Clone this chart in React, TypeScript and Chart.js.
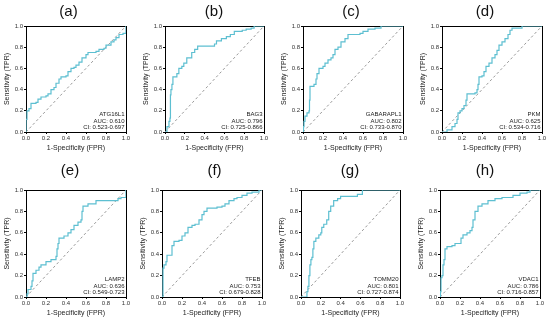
import React, { useEffect, useRef } from 'react';
import { Chart, registerables } from 'chart.js';

Chart.register(...registerables);

// ---------- data ----------
const panelLabels = ['(a)', '(b)', '(c)', '(d)', '(e)', '(f)', '(g)', '(h)'];
const geneNames = ['ATG16L1', 'BAG3', 'GABARAPL1', 'PKM', 'LAMP2', 'TFEB', 'TOMM20', 'VDAC1'];
const aucValues = ['0.610', '0.796', '0.802', '0.625', '0.636', '0.753', '0.801', '0.786'];
const ciValues = ['0.523-0.697', '0.725-0.866', '0.733-0.870', '0.534-0.716', '0.549-0.723', '0.679-0.828', '0.727-0.874', '0.716-0.857'];
const axisTicks = [0, 0.2, 0.4, 0.6, 0.8, 1.0];
const diagFpr = [0, 1];
const diagTpr = [0, 1];

const fprATG16L1 = [0, 0, 0.01, 0.03, 0.05, 0.1, 0.12, 0.15, 0.2, 0.22, 0.25, 0.28, 0.3, 0.33, 0.35, 0.4, 0.42, 0.45, 0.48, 0.5, 0.53, 0.56, 0.6, 0.62, 0.7, 0.73, 0.78, 0.8, 0.85, 0.88, 0.9, 0.93, 0.97, 1, 1];
const tprATG16L1 = [0, 0.12, 0.2, 0.22, 0.27, 0.28, 0.31, 0.33, 0.34, 0.36, 0.4, 0.42, 0.46, 0.5, 0.52, 0.53, 0.57, 0.6, 0.61, 0.63, 0.66, 0.7, 0.73, 0.75, 0.76, 0.78, 0.79, 0.82, 0.85, 0.87, 0.89, 0.92, 0.93, 0.95, 1];

const fprBAG3 = [0, 0.02, 0.04, 0.05, 0.055, 0.06, 0.07, 0.08, 0.1, 0.12, 0.14, 0.17, 0.19, 0.22, 0.27, 0.3, 0.33, 0.5, 0.52, 0.57, 0.62, 0.66, 0.7, 0.78, 0.82, 0.87, 0.9, 1];
const tprBAG3 = [0, 0.05, 0.1, 0.13, 0.35, 0.4, 0.45, 0.52, 0.52, 0.55, 0.6, 0.62, 0.65, 0.7, 0.75, 0.78, 0.81, 0.83, 0.86, 0.88, 0.9, 0.92, 0.95, 0.96, 0.97, 0.98, 1, 1];

const fprGABARAPL1 = [0, 0.005, 0.01, 0.02, 0.04, 0.06, 0.065, 0.07, 0.1, 0.11, 0.13, 0.14, 0.16, 0.2, 0.22, 0.25, 0.28, 0.3, 0.32, 0.35, 0.38, 0.42, 0.45, 0.55, 0.57, 0.6, 0.65, 0.72, 0.78, 1];
const tprGABARAPL1 = [0, 0.05, 0.1, 0.15, 0.18, 0.2, 0.3, 0.43, 0.43, 0.45, 0.5, 0.55, 0.6, 0.62, 0.65, 0.68, 0.7, 0.73, 0.78, 0.8, 0.85, 0.88, 0.92, 0.92, 0.93, 0.95, 0.97, 0.98, 1, 1];

const fprPKM = [0, 0.05, 0.1, 0.13, 0.15, 0.16, 0.18, 0.2, 0.22, 0.24, 0.25, 0.33, 0.35, 0.36, 0.37, 0.4, 0.42, 0.44, 0.47, 0.5, 0.53, 0.55, 0.57, 0.6, 0.63, 0.66, 0.68, 0.7, 0.8, 1];
const tprPKM = [0, 0.02, 0.05, 0.08, 0.12, 0.18, 0.2, 0.22, 0.25, 0.3, 0.36, 0.37, 0.4, 0.45, 0.52, 0.53, 0.57, 0.62, 0.65, 0.7, 0.73, 0.77, 0.82, 0.85, 0.88, 0.92, 0.96, 0.98, 1, 1];

const fprLAMP2 = [0, 0.01, 0.02, 0.05, 0.06, 0.07, 0.1, 0.13, 0.15, 0.18, 0.2, 0.25, 0.3, 0.31, 0.32, 0.33, 0.38, 0.42, 0.45, 0.48, 0.52, 0.55, 0.56, 0.57, 0.62, 0.7, 0.9, 0.92, 0.95, 1, 1];
const tprLAMP2 = [0, 0.03, 0.07, 0.1, 0.15, 0.22, 0.25, 0.28, 0.3, 0.3, 0.33, 0.35, 0.38, 0.45, 0.5, 0.55, 0.57, 0.6, 0.63, 0.67, 0.7, 0.72, 0.8, 0.85, 0.87, 0.9, 0.9, 0.92, 0.93, 0.93, 1];

const fprTFEB = [0, 0.01, 0.02, 0.04, 0.05, 0.08, 0.1, 0.12, 0.17, 0.2, 0.23, 0.26, 0.3, 0.33, 0.37, 0.4, 0.42, 0.45, 0.55, 0.6, 0.63, 0.67, 0.72, 0.75, 0.8, 0.85, 0.9, 0.95, 0.97, 1];
const tprTFEB = [0, 0.27, 0.3, 0.33, 0.39, 0.39, 0.48, 0.52, 0.53, 0.57, 0.6, 0.65, 0.67, 0.68, 0.72, 0.77, 0.8, 0.83, 0.84, 0.85, 0.87, 0.9, 0.92, 0.93, 0.95, 0.97, 0.98, 0.98, 1, 1];

const fprTOMM20 = [0, 0.05, 0.06, 0.07, 0.08, 0.09, 0.1, 0.11, 0.12, 0.13, 0.15, 0.18, 0.2, 0.21, 0.23, 0.26, 0.28, 0.3, 0.33, 0.37, 0.4, 0.53, 0.57, 0.62, 1];
const tprTOMM20 = [0, 0, 0.05, 0.1, 0.2, 0.3, 0.35, 0.37, 0.45, 0.52, 0.55, 0.58, 0.6, 0.65, 0.68, 0.72, 0.8, 0.85, 0.9, 0.92, 0.94, 0.94, 0.96, 1, 1];

const fprVDAC1 = [0, 0.005, 0.01, 0.02, 0.03, 0.04, 0.05, 0.07, 0.12, 0.15, 0.2, 0.21, 0.23, 0.27, 0.3, 0.32, 0.33, 0.35, 0.38, 0.42, 0.48, 0.55, 0.62, 0.7, 0.73, 0.8, 0.87, 0.9, 1];
const tprVDAC1 = [0, 0.05, 0.18, 0.2, 0.3, 0.35, 0.45, 0.47, 0.48, 0.5, 0.5, 0.55, 0.58, 0.6, 0.62, 0.65, 0.72, 0.8, 0.85, 0.87, 0.9, 0.92, 0.93, 0.93, 0.95, 0.97, 0.98, 1, 1];

const fprSeries = [fprATG16L1, fprBAG3, fprGABARAPL1, fprPKM, fprLAMP2, fprTFEB, fprTOMM20, fprVDAC1];
const tprSeries = [tprATG16L1, tprBAG3, tprGABARAPL1, tprPKM, tprLAMP2, tprTFEB, tprTOMM20, tprVDAC1];

// ---------- layout (positions / sizes) ----------
const panelBoxes = [
  { x: 0, w: 139, r: 11, row: 0 },
  { x: 139, w: 152, r: 25, row: 0 },
  { x: 277, w: 150, r: 22, row: 0 },
  { x: 416, w: 140, r: 12, row: 0 },
  { x: 0, w: 142, r: 14, row: 1 },
  { x: 136, w: 159, r: 31, row: 1 },
  { x: 275, w: 152, r: 25, row: 1 },
  { x: 414, w: 144, r: 16, row: 1 },
];
const rowBoxes = [
  { y: 0, h: 160, titleTop: 3, titleBottom: 5, padBottom: 6 },
  { y: 160, h: 161, titleTop: 2, titleBottom: 10, padBottom: 2 },
];

const FONT = '"Liberation Sans", Arial, Helvetica, sans-serif';
const CURVE = '#5dbfd1';
const DIAG = '#8c8c8c';
const INK = '#222222';

Chart.defaults.font.family = FONT;

const rocText = {
  id: 'rocText',
  afterDatasetsDraw(chart: any, _args: any, opts: any) {
    const { ctx, chartArea } = chart;
    const lines: string[] = opts.lines || [];
    ctx.save();
    ctx.font = `6px ${FONT}`;
    ctx.fillStyle = INK;
    ctx.textAlign = 'right';
    ctx.textBaseline = 'middle';
    lines.forEach((t, i) => {
      ctx.fillText(t, chartArea.right - 1.5, chartArea.bottom - 4.5 - (lines.length - 1 - i) * 6.5);
    });
    ctx.restore();
  },
};

function RocPanel({ idx }: { idx: number }) {
  const ref = useRef<HTMLCanvasElement | null>(null);
  const box = panelBoxes[idx];
  const row = rowBoxes[box.row];

  useEffect(() => {
    if (!ref.current) return;
    const edgeColor = (c: any) => (c.tick && c.tick.value === 1 ? '#000000' : 'rgba(0,0,0,0)');
    const tickFmt = (v: any) => Number(v).toFixed(1);
    const setTicks = (s: any) => {
      s.ticks = axisTicks.map((v) => ({ value: v }));
    };
    const chart = new Chart(ref.current, {
      type: 'line',
      data: {
        datasets: [
          {
            data: fprSeries[idx].map((x, i) => ({ x, y: tprSeries[idx][i] })),
            borderColor: CURVE,
            borderWidth: 1.2,
            pointRadius: 0,
            stepped: true,
            fill: false,
            tension: 0,
          },
          {
            data: diagFpr.map((x, i) => ({ x, y: diagTpr[i] })),
            borderColor: DIAG,
            borderWidth: 0.9,
            borderDash: [2.5, 2.5],
            pointRadius: 0,
            fill: false,
          },
        ],
      },
      options: {
        responsive: false,
        animation: false,
        devicePixelRatio: 1,
        layout: { padding: { left: 0, right: 2, top: 0, bottom: row.padBottom } },
        plugins: {
          legend: { display: false },
          tooltip: { enabled: false },
          title: {
            display: true,
            text: panelLabels[idx],
            color: '#111111',
            font: { size: 15, weight: 'normal', family: FONT },
            padding: { top: row.titleTop, bottom: row.titleBottom },
          },
          rocText: { lines: [geneNames[idx], `AUC: ${aucValues[idx]}`, `CI: ${ciValues[idx]}`] },
        } as any,
        scales: {
          x: {
            type: 'linear',
            min: 0,
            max: 1,
            afterBuildTicks: setTicks,
            afterFit: (s: any) => {
              s.height = 22;
            },
            grid: { color: edgeColor, lineWidth: 1, tickColor: '#000000', tickLength: 2, drawTicks: true },
            border: { display: true, color: '#000000', width: 1 },
            ticks: { font: { size: 6 }, color: '#333333', padding: 1, maxRotation: 0, autoSkip: false, callback: tickFmt },
            title: { display: true, text: '1-Specificity (FPR)', font: { size: 7 }, color: INK, padding: { top: 0, bottom: 1.8 } },
          },
          y: {
            type: 'linear',
            min: 0,
            max: 1,
            afterBuildTicks: setTicks,
            afterFit: (s: any) => {
              s.width = 26;
            },
            grid: { color: edgeColor, lineWidth: 1, tickColor: '#000000', tickLength: 2, drawTicks: true },
            border: { display: true, color: '#000000', width: 1 },
            ticks: { font: { size: 6 }, color: '#333333', padding: 1, autoSkip: false, callback: tickFmt },
            title: { display: true, text: 'Sensitivity (TPR)', font: { size: 7 }, color: INK, padding: { top: 3, bottom: 0 } },
          },
          yr: {
            type: 'linear',
            position: 'right',
            display: true,
            afterFit: (s: any) => {
              s.width = box.r;
            },
            grid: { display: false, drawTicks: false },
            border: { display: false },
            ticks: { display: false },
          },
        } as any,
      },
      plugins: [rocText],
    } as any);
    return () => chart.destroy();
  }, [idx]);

  return (
    <canvas
      ref={ref}
      width={box.w}
      height={row.h}
      style={{ position: 'absolute', left: box.x, top: row.y, width: box.w, height: row.h }}
    />
  );
}

export default function App() {
  return (
    <div style={{ position: 'absolute', left: 0, top: 0, width: 550, height: 321, overflow: 'hidden', background: '#ffffff' }}>
      {panelLabels.map((_, i) => (
        <RocPanel key={i} idx={i} />
      ))}
    </div>
  );
}
